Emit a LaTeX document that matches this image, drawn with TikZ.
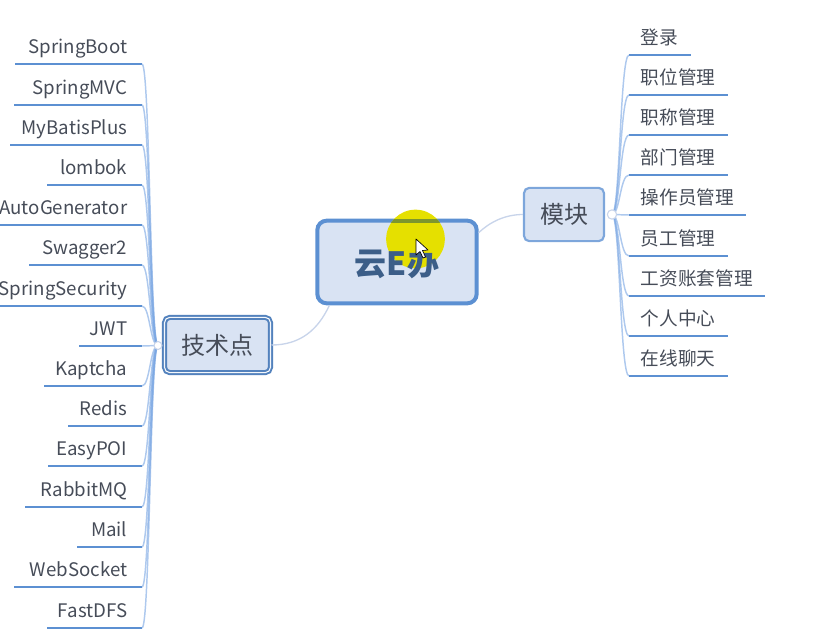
\documentclass[tikz,border=0pt]{standalone}
\usepackage{fontspec}
\setmainfont{Noto Sans CJK SC}
\definecolor{linkblue}{RGB}{200,212,234}
\definecolor{spineblue}{RGB}{120,165,226}
\definecolor{underblue}{RGB}{92,144,210}
\definecolor{boxblue}{RGB}{217,227,243}
\definecolor{inkgray}{RGB}{70,76,88}
\definecolor{spotyellow}{RGB}{229,224,0}
\definecolor{spotband}{RGB}{125,150,45}
\tikzset{
  item/.style={inner sep=0pt,text height=10.5pt,text depth=3pt,text=inkgray,font=\fontsize{14pt}{16pt}\selectfont},
  link/.style={draw=linkblue,line width=1pt},
  spine/.style={draw=spineblue,line width=1.1pt,opacity=.6},
  under/.style={draw=underblue,line width=2.1pt},
  hub/.style={draw=linkblue,fill=white,line width=.8pt},
  topicbox/.style={draw=underblue!80,fill=boxblue,rounded corners=4pt,line width=1.6pt,text=inkgray,inner sep=0pt,font=\fontsize{18pt}{20pt}\selectfont}
}
\begin{document}
\begin{tikzpicture}[x=0.75pt,y=-0.75pt]
\useasboundingbox (0,0) rectangle (818,636);
\node [draw=underblue,fill=boxblue,rounded corners=7pt,line width=3pt,minimum width=119.5pt,minimum height=62pt,inner sep=0pt] (center) at (397,262) {};
% highlight and what shows through it
\fill [spotyellow] (415.5,239) circle [radius=22pt];
\begin{scope}
\clip (415.5,239) circle [radius=22pt];
\draw [draw=spotband,line width=3pt] (300,220.5) -- (500,220.5);
\end{scope}
\node [inner sep=0pt,text=underblue!65!black,font=\fontsize{24pt}{26pt}\selectfont\bfseries] (title) at (397,264) {云E办};
\node [topicbox,minimum width=60pt,minimum height=40pt] (modules) at (564,214.5) {\raisebox{-1.5pt}{模块}};
\node [topicbox,draw=underblue!90!black,minimum width=79.5pt,minimum height=41.5pt,line width=1.5pt,double=boxblue!30!white,double distance=.8pt] (tech) at (217.5,345) {\raisebox{-1.5pt}{技术点}};
\draw [link] (center.east) ++(0,22pt) .. controls (490,222) and (505,214.5) .. (modules.west);
\draw [link] (center.south west) ++(14,0) .. controls (318,330) and (300,345) .. (tech.east);
\coordinate (hubl) at (158,345.5);
\coordinate (hubr) at (612,214.5);
\foreach \name/\y/\xl in {SpringBoot/46/15,SpringMVC/87/14,MyBatisPlus/127/10,lombok/167/47,AutoGenerator/207/0,Swagger2/247/29,SpringSecurity/288/0,JWT/328/79,Kaptcha/368/44,Redis/408/68,EasyPOI/448/48,RabbitMQ/489/25,Mail/529/77,WebSocket/569/14,FastDFS/610/47}{
  \node [item,anchor=east] (n\y) at (127.5,\y+2) {\name};
  \coordinate (e\y) at (142,\y+18);
  \coordinate (s\y) at (\xl,\y+18);
  \draw [under] (s\y) -- (e\y);
  \draw [spine] (hubl) .. controls (150,345.5) and (150,\y+18) .. (e\y);
}
\foreach \name/\y/\xr in {登录/37/691,职位管理/77/728,职称管理/117/728,部门管理/157/728,操作员管理/197/746,员工管理/238/728,工资账套管理/278/765,个人中心/318/728,在线聊天/358/728}{
  \node [item,anchor=west] (m\y) at (640.5,\y+2) {\name};
  \coordinate (r\y) at (629,\y+18);
  \coordinate (t\y) at (\xr,\y+18);
  \draw [under] (r\y) -- (t\y);
  \draw [spine] (hubr) .. controls (620,214.5) and (620,\y+18) .. (r\y);
}
\draw [hub] (hubl) circle [radius=3pt];
\draw [hub] (hubr) circle [radius=3.5pt];
% mouse pointer
\draw [fill=white,line width=.5pt,line join=round] (416,239) -- (416,255) -- (420,251.5) -- (423,258) -- (425.5,257) -- (422.5,250.5) -- (428,250) -- cycle;
\end{tikzpicture}
\end{document}
